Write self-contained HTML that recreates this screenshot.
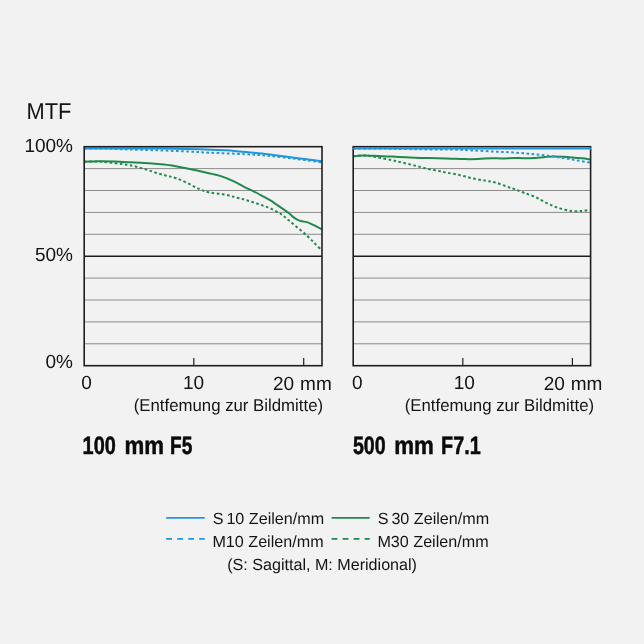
<!DOCTYPE html>
<html lang="de">
<head>
<meta charset="utf-8">
<title>MTF</title>
<style>
html,body{margin:0;padding:0;background:#f2f2f2;}
body{width:644px;height:644px;overflow:hidden;}
svg{display:block;will-change:transform;}
text{text-rendering:geometricPrecision;}
text{font-family:"Liberation Sans",Arial,Helvetica,sans-serif;fill:#141414;}
.ax{font-size:19px;}
.sub{font-size:17.2px;}
.leg{font-size:16.15px;}
.ttl{font-size:25.2px;font-weight:bold;fill:#0a0a0a;stroke:#0a0a0a;stroke-width:0.5px;}
</style>
</head>
<body>
<svg width="644" height="644" viewBox="0 0 644 644">
<rect x="0" y="0" width="644" height="644" fill="#f2f2f2"/>
<g>
<line x1="84.20" y1="343.80" x2="322.00" y2="343.80" stroke="#808080" stroke-width="0.9"/>
<line x1="84.20" y1="321.90" x2="322.00" y2="321.90" stroke="#808080" stroke-width="0.9"/>
<line x1="84.20" y1="300.00" x2="322.00" y2="300.00" stroke="#808080" stroke-width="0.9"/>
<line x1="84.20" y1="278.10" x2="322.00" y2="278.10" stroke="#808080" stroke-width="0.9"/>
<line x1="84.20" y1="234.30" x2="322.00" y2="234.30" stroke="#808080" stroke-width="0.9"/>
<line x1="84.20" y1="212.40" x2="322.00" y2="212.40" stroke="#808080" stroke-width="0.9"/>
<line x1="84.20" y1="190.50" x2="322.00" y2="190.50" stroke="#808080" stroke-width="0.9"/>
<line x1="84.20" y1="168.60" x2="322.00" y2="168.60" stroke="#808080" stroke-width="0.9"/>
<path d="M84.20,161.70 C86.00,161.65 92.20,161.42 95.00,161.40 C97.80,161.38 98.83,161.43 101.00,161.60 C103.17,161.77 104.50,162.00 108.00,162.40 C111.50,162.80 118.33,163.53 122.00,164.00 C125.67,164.47 127.12,164.62 130.00,165.20 C132.88,165.78 136.20,166.65 139.30,167.50 C142.40,168.35 145.48,169.32 148.60,170.30 C151.72,171.28 154.88,172.47 158.00,173.40 C161.12,174.33 164.20,175.08 167.30,175.90 C170.40,176.72 173.15,177.05 176.60,178.30 C180.05,179.55 184.27,181.63 188.00,183.40 C191.73,185.17 195.50,187.40 199.00,188.90 C202.50,190.40 205.00,191.52 209.00,192.40 C213.00,193.28 218.67,193.40 223.00,194.20 C227.33,195.00 231.45,196.30 235.00,197.20 C238.55,198.10 241.20,198.73 244.30,199.60 C247.40,200.47 250.48,201.40 253.60,202.40 C256.72,203.40 259.88,204.45 263.00,205.60 C266.12,206.75 269.20,207.82 272.30,209.30 C275.40,210.78 278.87,212.67 281.60,214.50 C284.33,216.33 285.97,218.05 288.70,220.30 C291.43,222.55 294.90,225.40 298.00,228.00 C301.10,230.60 304.52,233.33 307.30,235.90 C310.08,238.47 312.25,240.95 314.70,243.40 C317.15,245.85 320.78,249.40 322.00,250.60" fill="none" stroke="#1f8a4c" stroke-width="2.0" stroke-dasharray="2.6 2.5"/>
<path d="M84.20,161.70 C86.00,161.65 92.20,161.47 95.00,161.40 C97.80,161.33 97.67,161.27 101.00,161.30 C104.33,161.33 110.17,161.43 115.00,161.60 C119.83,161.77 125.00,162.05 130.00,162.30 C135.00,162.55 140.33,162.82 145.00,163.10 C149.67,163.38 153.50,163.62 158.00,164.00 C162.50,164.38 167.50,164.72 172.00,165.40 C176.50,166.08 181.17,167.32 185.00,168.10 C188.83,168.88 191.90,169.47 195.00,170.10 C198.10,170.73 200.60,171.23 203.60,171.90 C206.60,172.57 209.88,173.32 213.00,174.10 C216.12,174.88 219.20,175.57 222.30,176.60 C225.40,177.63 228.93,179.13 231.60,180.30 C234.27,181.47 236.07,182.43 238.30,183.60 C240.53,184.77 242.45,186.02 245.00,187.30 C247.55,188.58 250.60,189.80 253.60,191.30 C256.60,192.80 260.27,194.82 263.00,196.30 C265.73,197.78 268.00,199.00 270.00,200.20 C272.00,201.40 272.87,202.05 275.00,203.50 C277.13,204.95 280.47,207.27 282.80,208.90 C285.13,210.53 287.07,211.80 289.00,213.30 C290.93,214.80 292.85,216.77 294.40,217.90 C295.95,219.03 297.00,219.55 298.30,220.10 C299.60,220.65 300.52,220.78 302.20,221.20 C303.88,221.62 306.47,221.93 308.40,222.60 C310.33,223.27 311.53,224.05 313.80,225.20 C316.07,226.35 320.63,228.78 322.00,229.50" fill="none" stroke="#1f8a4c" stroke-width="2.0"/>
<path d="M84.20,148.40 C86.83,148.42 95.37,148.43 100.00,148.50 C104.63,148.57 108.00,148.67 112.00,148.80 C116.00,148.93 119.33,149.13 124.00,149.30 C128.67,149.47 134.00,149.62 140.00,149.80 C146.00,149.98 151.67,150.10 160.00,150.40 C168.33,150.70 181.67,151.22 190.00,151.60 C198.33,151.98 200.83,152.27 210.00,152.70 C219.17,153.13 235.33,153.70 245.00,154.20 C254.67,154.70 259.50,154.92 268.00,155.70 C276.50,156.48 287.00,157.78 296.00,158.90 C305.00,160.02 317.67,161.82 322.00,162.40" fill="none" stroke="#2097da" stroke-width="2.0" stroke-dasharray="2.6 2.5"/>
<path d="M84.20,148.40 C86.83,148.40 94.03,148.39 100.00,148.40 C105.97,148.41 110.00,148.42 120.00,148.45 C130.00,148.48 146.67,148.47 160.00,148.60 C173.33,148.72 189.17,148.92 200.00,149.20 C210.83,149.48 218.33,149.92 225.00,150.30 C231.67,150.68 235.83,151.15 240.00,151.50 C244.17,151.85 245.33,151.93 250.00,152.40 C254.67,152.87 261.83,153.58 268.00,154.30 C274.17,155.02 282.33,156.10 287.00,156.70 C291.67,157.30 290.17,157.15 296.00,157.90 C301.83,158.65 317.67,160.65 322.00,161.20" fill="none" stroke="#2097da" stroke-width="2.0"/>
<line x1="84.20" y1="256.20" x2="322.00" y2="256.20" stroke="#1e1e1e" stroke-width="1.5"/>
<rect x="84.20" y="146.70" width="237.80" height="219.00" fill="none" stroke="#1e1e1e" stroke-width="1.6"/>
<line x1="193.80" y1="358.10" x2="193.80" y2="365.70" stroke="#1e1e1e" stroke-width="1.2"/>
<line x1="303.70" y1="358.10" x2="303.70" y2="365.70" stroke="#1e1e1e" stroke-width="1.2"/>
</g>
<g>
<line x1="353.20" y1="343.80" x2="590.60" y2="343.80" stroke="#808080" stroke-width="0.9"/>
<line x1="353.20" y1="321.90" x2="590.60" y2="321.90" stroke="#808080" stroke-width="0.9"/>
<line x1="353.20" y1="300.00" x2="590.60" y2="300.00" stroke="#808080" stroke-width="0.9"/>
<line x1="353.20" y1="278.10" x2="590.60" y2="278.10" stroke="#808080" stroke-width="0.9"/>
<line x1="353.20" y1="234.30" x2="590.60" y2="234.30" stroke="#808080" stroke-width="0.9"/>
<line x1="353.20" y1="212.40" x2="590.60" y2="212.40" stroke="#808080" stroke-width="0.9"/>
<line x1="353.20" y1="190.50" x2="590.60" y2="190.50" stroke="#808080" stroke-width="0.9"/>
<line x1="353.20" y1="168.60" x2="590.60" y2="168.60" stroke="#808080" stroke-width="0.9"/>
<path d="M353.20,156.30 C354.00,156.22 356.20,155.93 358.00,155.80 C359.80,155.67 362.17,155.50 364.00,155.50 C365.83,155.50 367.33,155.60 369.00,155.80 C370.67,156.00 372.05,156.33 374.00,156.70 C375.95,157.07 377.70,157.42 380.70,158.00 C383.70,158.58 388.78,159.52 392.00,160.20 C395.22,160.88 397.12,161.43 400.00,162.10 C402.88,162.77 406.20,163.46 409.30,164.20 C412.40,164.94 415.48,165.77 418.60,166.55 C421.72,167.33 424.88,168.21 428.00,168.90 C431.12,169.59 434.20,170.08 437.30,170.70 C440.40,171.32 442.82,171.85 446.60,172.60 C450.38,173.35 455.50,174.20 460.00,175.20 C464.50,176.20 469.27,177.67 473.60,178.60 C477.93,179.53 482.32,180.13 486.00,180.80 C489.68,181.47 492.20,181.63 495.70,182.60 C499.20,183.57 503.78,185.48 507.00,186.60 C510.22,187.72 512.17,188.27 515.00,189.30 C517.83,190.33 520.67,191.53 524.00,192.80 C527.33,194.07 531.10,195.13 535.00,196.90 C538.90,198.67 543.27,201.48 547.40,203.40 C551.53,205.32 555.65,207.12 559.80,208.40 C563.95,209.68 568.57,210.68 572.30,211.10 C576.03,211.52 579.17,211.10 582.20,210.90 C585.23,210.70 589.12,210.07 590.50,209.90" fill="none" stroke="#1f8a4c" stroke-width="2.0" stroke-dasharray="2.6 2.5"/>
<path d="M353.20,156.30 C354.00,156.22 356.20,155.93 358.00,155.80 C359.80,155.67 361.83,155.52 364.00,155.50 C366.17,155.48 368.67,155.62 371.00,155.70 C373.33,155.78 374.50,155.85 378.00,156.00 C381.50,156.15 387.33,156.38 392.00,156.60 C396.67,156.82 401.33,157.08 406.00,157.30 C410.67,157.53 414.83,157.79 420.00,157.95 C425.17,158.11 431.83,158.12 437.00,158.25 C442.17,158.38 446.33,158.56 451.00,158.70 C455.67,158.84 460.50,159.05 465.00,159.10 C469.50,159.15 473.50,159.15 478.00,159.00 C482.50,158.85 488.00,158.28 492.00,158.20 C496.00,158.12 498.17,158.55 502.00,158.50 C505.83,158.45 511.33,157.93 515.00,157.90 C518.67,157.87 520.67,158.30 524.00,158.30 C527.33,158.30 531.50,158.12 535.00,157.90 C538.50,157.68 541.90,157.23 545.00,157.00 C548.10,156.77 550.60,156.53 553.60,156.50 C556.60,156.47 559.93,156.65 563.00,156.80 C566.07,156.95 568.83,157.15 572.00,157.40 C575.17,157.65 578.92,157.97 582.00,158.30 C585.08,158.63 589.08,159.22 590.50,159.40" fill="none" stroke="#1f8a4c" stroke-width="2.0"/>
<path d="M353.20,148.40 C357.67,148.42 372.20,148.42 380.00,148.50 C387.80,148.58 393.33,148.77 400.00,148.90 C406.67,149.03 413.33,149.20 420.00,149.30 C426.67,149.40 434.17,149.45 440.00,149.50 C445.83,149.55 449.67,149.45 455.00,149.60 C460.33,149.75 465.33,150.07 472.00,150.40 C478.67,150.73 487.83,151.23 495.00,151.60 C502.17,151.97 508.33,152.15 515.00,152.60 C521.67,153.05 528.57,153.65 535.00,154.30 C541.43,154.95 547.38,155.62 553.60,156.50 C559.82,157.38 566.15,158.57 572.30,159.60 C578.45,160.63 587.47,162.18 590.50,162.70" fill="none" stroke="#2097da" stroke-width="2.0" stroke-dasharray="2.6 2.5"/>
<line x1="353.20" y1="256.20" x2="590.60" y2="256.20" stroke="#1e1e1e" stroke-width="1.5"/>
<rect x="353.20" y="146.70" width="237.40" height="219.00" fill="none" stroke="#1e1e1e" stroke-width="1.6"/>
<line x1="462.80" y1="358.10" x2="462.80" y2="365.70" stroke="#1e1e1e" stroke-width="1.2"/>
<line x1="572.40" y1="358.10" x2="572.40" y2="365.70" stroke="#1e1e1e" stroke-width="1.2"/>
<path d="M353.20,148.40 C369.33,148.40 410.37,148.38 450.00,148.40 C489.63,148.42 567.50,148.48 591.00,148.50" fill="none" stroke="#2097da" stroke-width="2.0"/>
</g>
<text x="26.5" y="118.85" style="font-size:22.9px" textLength="45.0" lengthAdjust="spacingAndGlyphs">MTF</text>
<text class="ax" x="73" y="151.65" text-anchor="end">100%</text>
<text class="ax" x="73" y="261.3" text-anchor="end">50%</text>
<text class="ax" x="73" y="368.4" text-anchor="end">0%</text>
<text class="ax" x="86.6" y="389.0" text-anchor="middle">0</text>
<text class="ax" x="193.5" y="389.0" text-anchor="middle">10</text>
<text class="ax" x="273.0" y="389.6">20</text>
<text class="ax" x="300.1" y="389.6">mm</text>
<text class="sub" x="133.75" y="410.7" textLength="189.3" lengthAdjust="spacingAndGlyphs">(Entfemung zur Bildmitte)</text>
<text class="ax" x="357.3" y="389.0" text-anchor="middle">0</text>
<text class="ax" x="464.2" y="389.0" text-anchor="middle">10</text>
<text class="ax" x="543.7" y="389.6">20</text>
<text class="ax" x="570.8" y="389.6">mm</text>
<text class="sub" x="404.75" y="410.7" textLength="189.3" lengthAdjust="spacingAndGlyphs">(Entfemung zur Bildmitte)</text>
<text class="ttl" x="82.6" y="453.7" textLength="33.2" lengthAdjust="spacingAndGlyphs">100</text>
<text class="ttl" x="124.4" y="453.7" textLength="39.5" lengthAdjust="spacingAndGlyphs">mm</text>
<text class="ttl" x="170.1" y="453.7" textLength="22.3" lengthAdjust="spacingAndGlyphs">F5</text>
<text class="ttl" x="352.9" y="453.7" textLength="32.8" lengthAdjust="spacingAndGlyphs">500</text>
<text class="ttl" x="394.3" y="453.7" textLength="39.6" lengthAdjust="spacingAndGlyphs">mm</text>
<text class="ttl" x="441.1" y="453.7" textLength="39.6" lengthAdjust="spacingAndGlyphs">F7.1</text>
<line x1="166.2" y1="517.85" x2="204.7" y2="517.85" stroke="#2097da" stroke-width="1.7"/>
<line x1="166.2" y1="538.8" x2="204.7" y2="538.8" stroke="#2097da" stroke-width="1.7" stroke-dasharray="5.8 5.2"/>
<line x1="331.6" y1="517.85" x2="369.7" y2="517.85" stroke="#1f8a4c" stroke-width="1.7"/>
<line x1="331.6" y1="538.8" x2="369.7" y2="538.8" stroke="#1f8a4c" stroke-width="1.7" stroke-dasharray="5.8 5.2"/>
<text class="leg" x="212.8" y="523.95">S</text><text class="leg" x="226.4" y="523.95">10 Zeilen/mm</text>
<text class="leg" x="212.4" y="546.65">M10 Zeilen/mm</text>
<text class="leg" x="377.8" y="523.95">S</text><text class="leg" x="391.4" y="523.95">30 Zeilen/mm</text>
<text class="leg" x="377.4" y="546.65">M30 Zeilen/mm</text>
<text class="leg" x="227.2" y="569.6" style="font-size:16.12px">(S: Sagittal, M: Meridional)</text>
</svg>
</body>
</html>
